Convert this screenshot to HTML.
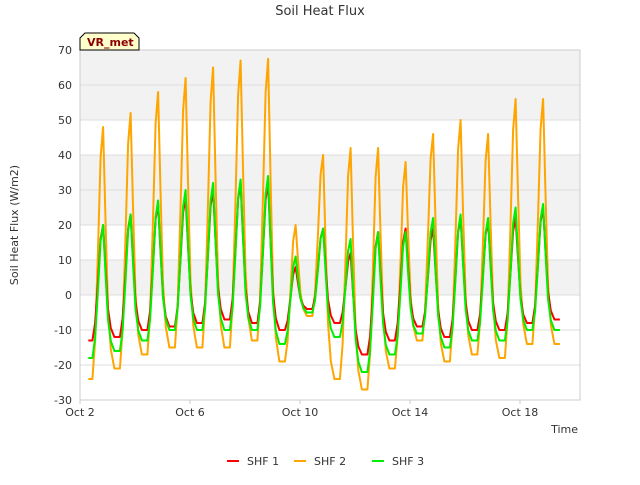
<!DOCTYPE html>
<html><head><meta charset="utf-8"><style>
body{margin:0;background:#fff;font-family:"Liberation Sans","DejaVu Sans",sans-serif}
svg text{font-family:"DejaVu Sans","Liberation Sans",sans-serif}
</style></head><body>
<svg id="chart" width="640" height="480" viewBox="0 0 640 480">
<text x="320" y="15" font-size="13" fill="#333" text-anchor="middle">Soil Heat Flux</text>
<g id="bands"></g><g id="grid"></g>
<rect x="80" y="50" width="500" height="350" fill="none" stroke="#ccc"/>
<g id="axes"></g><g id="series"></g>
<text transform="translate(18,225) rotate(-90)" font-size="11" fill="#333" text-anchor="middle">Soil Heat Flux (W/m2)</text>
<text x="578" y="433" font-size="11" fill="#333" text-anchor="end">Time</text>
<g>
<path d="M80,50 L80,38 L85,33 L134,33 L139,38 L139,50 Z" fill="#ffffcc" stroke="#000"/>
<text x="87" y="46" font-size="11" font-weight="bold" fill="#8b0000">VR_met</text></g>
<g id="legend"></g>
</svg>
<script>
const dayTicks=[2,6,10,14,18];
const tickLabels=["Oct 2","Oct 6","Oct 10","Oct 14","Oct 18"];
const yTicks=[-30,-20,-10,0,10,20,30,40,50,60,70];
const seriesNames=["SHF 1","SHF 2","SHF 3"];
const seriesColors=["#ff0000","#ffa500","#00ee00"];
const peakDays=[2,3,4,5,6,7,8,9,10,11,12,13,14,15,16,17,18];
const shf1Peaks=[20,23,26,28,30,32,32,8,19,12,18,19,19,22,21,22,25];
const shf1Troughs=[-13,-12,-10,-9,-8,-7,-8,-10,-4,-8,-17,-13,-9,-12,-10,-10,-8,-7];
const shf2Peaks=[48,52,58,62,65,67,67.5,20,40,42,42,38,46,50,46,56,56];
const shf2Troughs=[-24,-21,-17,-15,-15,-15,-13,-19,-6,-24,-27,-21,-13,-19,-17,-18,-14,-14];
const shf3Peaks=[20,23,27,30,32,33,34,11,19,16,18,18,22,23,22,25,26];
const shf3Troughs=[-18,-16,-13,-10,-10,-10,-10,-14,-5,-12,-22,-17,-11,-15,-13,-13,-10,-10];
const X=d=>80+(d-2)*27.5, Y=v=>295-v*3.5;
const NS="http://www.w3.org/2000/svg";
function mk(t,a,p){const e=document.createElementNS(NS,t);for(const k in a)e.setAttribute(k,a[k]);p.appendChild(e);return e;}
const bands=document.getElementById('bands'),grid=document.getElementById('grid'),axes=document.getElementById('axes');
[[50,70],[20,40],[0,10]].forEach(b=>{const r=mk('rect',{x:80,y:Y(b[1]),width:500,height:(b[1]-b[0])*3.5,fill:'#f2f2f2'},bands);

});
yTicks.forEach(v=>{const l=mk('line',{x1:80,x2:580,y1:Y(v),y2:Y(v),stroke:'#ddd'},grid);


const t=mk('text',{x:72,y:Y(v)+4,'font-size':11,fill:'#333','text-anchor':'end'},axes);t.textContent=v;

});
dayTicks.forEach((d,i)=>{const t=mk('text',{x:X(d),y:416,'font-size':11,fill:'#333','text-anchor':'middle'},axes);t.textContent=tickLabels[i];


mk('line',{x1:X(d),x2:X(d),y1:400,y2:404,stroke:'#ccc'},axes);});
const sg=document.getElementById('series');
function build(peaks,troughs){const pts=[[2.3,troughs[0]]];
peakDays.forEach((d,i)=>{const t0=troughs[i],t1=troughs[i+1],p=peaks[i];
pts.push([d+0.45,t0]);pts.push([d+0.55,t0+(p-t0)*0.15]);pts.push([d+0.65,t0+(p-t0)*0.5]);pts.push([d+0.75,t0+(p-t0)*0.88]);pts.push([d+0.84,p]);
pts.push([d+0.93,t1+(p-t1)*0.6]);pts.push([d+1.02,t1+(p-t1)*0.25]);pts.push([d+1.12,t1+(p-t1)*0.08]);pts.push([d+1.25,t1]);});
pts.push([19.45,troughs[troughs.length-1]]);return pts;}
[[shf2Peaks,shf2Troughs,1],[shf1Peaks,shf1Troughs,0],[shf3Peaks,shf3Troughs,2]].forEach(s=>{
const pts=build(s[0],s[1]);const p=mk('polyline',{points:pts.map(q=>X(q[0]).toFixed(1)+','+Y(q[1]).toFixed(1)).join(' '),fill:'none',stroke:seriesColors[s[2]],'stroke-width':2,'stroke-linejoin':'round'},sg);

});
const lg=document.getElementById('legend');const lx=[227,294,372];
seriesNames.forEach((n,i)=>{const g=mk('g',{},lg);


mk('line',{x1:lx[i],x2:lx[i]+12,y1:461,y2:461,stroke:seriesColors[i],'stroke-width':2},g);
const t=mk('text',{x:lx[i]+20,y:465,'font-size':11,fill:'#333'},g);t.textContent=n;});
</script>
</body></html>
